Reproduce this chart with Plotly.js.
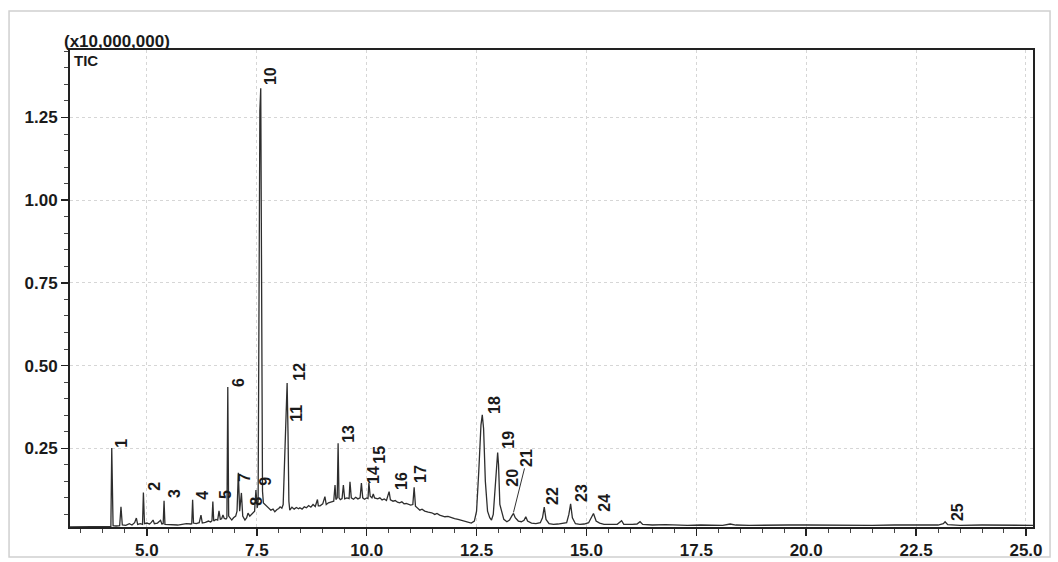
<!DOCTYPE html>
<html>
<head>
<meta charset="utf-8">
<script src="https://cdn.plot.ly/plotly-3.0.1.min.js"></script>
<style>
  html, body { margin: 0; padding: 0; background: #ffffff; }
  #chart { width: 1058px; height: 562px; }
</style>
</head>
<body>
<div id="chart"></div>
<script>
// Retention time (min) and TIC intensity (x10,000,000)
const retentionTime = [
  3.25, 3.6, 3.9, 4.15, 4.18, 4.20, 4.215, 4.23, 4.30, 4.38, 4.41, 4.44, 4.52, 4.60, 4.66, 4.72, 4.76, 4.79,
  4.85, 4.90, 4.92, 4.945, 5.00, 5.06, 5.10, 5.14, 5.17, 5.24, 5.31, 5.34, 5.37, 5.39, 5.41, 5.50, 5.60, 5.70,
  5.80, 5.90, 6.00, 6.02, 6.04, 6.06, 6.12, 6.19, 6.23, 6.26, 6.33, 6.40, 6.45, 6.48, 6.50, 6.52, 6.57, 6.61,
  6.64, 6.67, 6.70, 6.73, 6.76, 6.80, 6.82, 6.84, 6.86, 6.90, 6.93, 6.97, 7.02, 7.05, 7.08, 7.11, 7.15, 7.18,
  7.23, 7.27, 7.30, 7.34, 7.38, 7.42, 7.45, 7.48, 7.51, 7.53, 7.55, 7.57, 7.59, 7.61, 7.63, 7.65, 7.70, 7.76,
  7.82, 7.87, 7.91, 7.96, 8.00, 8.03, 8.07, 8.10, 8.13, 8.15, 8.17, 8.19, 8.21, 8.23, 8.25, 8.30, 8.35, 8.40,
  8.45, 8.48, 8.53, 8.58, 8.63, 8.68, 8.73, 8.78, 8.83, 8.88, 8.90, 8.94, 9.00, 9.05, 9.08, 9.13, 9.20, 9.25,
  9.28, 9.30, 9.33, 9.35, 9.37, 9.40, 9.44, 9.47, 9.50, 9.55, 9.60, 9.62, 9.65, 9.70, 9.75, 9.80, 9.85, 9.88,
  9.91, 9.95, 10.00, 10.03, 10.05, 10.08, 10.12, 10.15, 10.18, 10.25, 10.30, 10.35, 10.40, 10.45, 10.51, 10.54,
  10.60, 10.65, 10.70, 10.75, 10.80, 10.85, 10.90, 10.95, 11.00, 11.05, 11.08, 11.11, 11.15, 11.21, 11.26, 11.32,
  11.40, 11.48, 11.55, 11.60, 11.66, 11.72, 11.78, 11.85, 11.92, 12.00, 12.08, 12.15, 12.22, 12.30, 12.38, 12.45,
  12.50, 12.55, 12.60, 12.63, 12.66, 12.70, 12.75, 12.80, 12.84, 12.88, 12.92, 12.96, 12.98, 13.00, 13.03, 13.07,
  13.12, 13.19, 13.25, 13.30, 13.34, 13.38, 13.45, 13.52, 13.58, 13.62, 13.66, 13.75, 13.85, 13.95, 14.00, 14.04,
  14.08, 14.15, 14.25, 14.35, 14.45, 14.55, 14.60, 14.64, 14.68, 14.75, 14.85, 14.95, 15.05, 15.10, 15.16, 15.22,
  15.30, 15.40, 15.50, 15.60, 15.70, 15.80, 15.85, 15.95, 16.05, 16.15, 16.22, 16.28, 16.50, 16.80, 17.00, 17.30,
  17.60, 17.90, 18.10, 18.27, 18.40, 18.70, 19.00, 19.30, 19.60, 20.00, 20.50, 21.00, 21.50, 22.00, 22.50, 23.00,
  23.12, 23.16, 23.22, 23.50, 24.00, 24.50, 25.00, 25.16
];
const ticIntensity = [
  0.012, 0.013, 0.012, 0.013, 0.014, 0.251, 0.100, 0.016, 0.015, 0.016, 0.073, 0.018, 0.017, 0.022, 0.018, 0.025, 0.039, 0.020,
  0.022, 0.020, 0.116, 0.022, 0.024, 0.021, 0.026, 0.033, 0.022, 0.024, 0.032, 0.021, 0.022, 0.091, 0.020, 0.019, 0.020, 0.018,
  0.020, 0.022, 0.021, 0.022, 0.094, 0.024, 0.022, 0.025, 0.048, 0.024, 0.026, 0.030, 0.027, 0.031, 0.089, 0.030, 0.035, 0.033,
  0.061, 0.035, 0.037, 0.048, 0.038, 0.036, 0.040, 0.435, 0.045, 0.036, 0.033, 0.040, 0.045, 0.060, 0.176, 0.060, 0.115, 0.045,
  0.033, 0.040, 0.054, 0.045, 0.050, 0.058, 0.060, 0.124, 0.070, 0.090, 0.720, 1.270, 1.338, 0.600, 0.120, 0.085, 0.078, 0.070,
  0.063, 0.066, 0.058, 0.065, 0.068, 0.073, 0.069, 0.080, 0.200, 0.330, 0.350, 0.447, 0.300, 0.090, 0.063, 0.072, 0.066, 0.071,
  0.067, 0.070, 0.066, 0.073, 0.070, 0.077, 0.072, 0.080, 0.074, 0.095, 0.076, 0.076, 0.082, 0.104, 0.080, 0.085, 0.088, 0.090,
  0.139, 0.095, 0.100, 0.265, 0.100, 0.095, 0.098, 0.139, 0.097, 0.100, 0.098, 0.149, 0.100, 0.096, 0.102, 0.097, 0.100, 0.145,
  0.100, 0.096, 0.100, 0.098, 0.146, 0.105, 0.100, 0.112, 0.100, 0.097, 0.100, 0.094, 0.097, 0.092, 0.119, 0.094,
  0.090, 0.092, 0.087, 0.085, 0.088, 0.082, 0.083, 0.080, 0.078, 0.080, 0.132, 0.075, 0.070, 0.063, 0.066, 0.060,
  0.057, 0.055, 0.050, 0.053, 0.048, 0.046, 0.043, 0.044, 0.040, 0.037, 0.035, 0.032, 0.030, 0.026, 0.024, 0.030,
  0.060, 0.180, 0.320, 0.351, 0.310, 0.150, 0.060, 0.040, 0.033, 0.050, 0.140, 0.220, 0.237, 0.200, 0.080, 0.060,
  0.035, 0.028, 0.033, 0.045, 0.053, 0.040, 0.030, 0.028, 0.032, 0.043, 0.030, 0.024, 0.022, 0.025, 0.040, 0.072,
  0.035, 0.022, 0.020, 0.021, 0.022, 0.025, 0.050, 0.082, 0.040, 0.022, 0.020, 0.021, 0.025, 0.040, 0.053, 0.030,
  0.024, 0.020, 0.019, 0.020, 0.020, 0.031, 0.020, 0.019, 0.020, 0.021, 0.028, 0.020, 0.018, 0.019, 0.018, 0.017,
  0.018, 0.018, 0.017, 0.021, 0.018, 0.017, 0.018, 0.017, 0.018, 0.018, 0.017, 0.018, 0.017, 0.018, 0.017, 0.018,
  0.022, 0.028, 0.019, 0.017, 0.018, 0.017, 0.017, 0.017
];

// Peak labels and where their text sits (retention time, intensity)
const peakNames = ["1","2","3","4","5","6","7","8","9","10","11","12","13","14","15","16","17","18","19","20","21","22","23","24","25"];
const peakLabelRT = [4.43, 5.18, 5.64, 6.27, 6.80, 7.07, 7.21, 7.50, 7.68, 7.80, 8.41, 8.48, 9.57, 10.14, 10.30, 10.78, 11.21, 12.92, 13.21, 13.30, 13.65, 14.24, 14.90, 15.42, 23.43];
const peakLabelLevel = [0.266, 0.136, 0.112, 0.109, 0.109, 0.450, 0.160, 0.091, 0.151, 1.375, 0.357, 0.481, 0.293, 0.169, 0.230, 0.151, 0.172, 0.381, 0.275, 0.160, 0.221, 0.106, 0.115, 0.085, 0.057];
// Peak 21 has a leader line to its apex
const leaderPeakRT = 13.34;
const leaderPeakLevel = 0.056;

const xTickVals = [5.0, 7.5, 10.0, 12.5, 15.0, 17.5, 20.0, 22.5, 25.0];
const yTickVals = [0.25, 0.50, 0.75, 1.00, 1.25];

const FONT = "Liberation Sans, Arial, sans-serif";

const annotations = peakNames.map((name, i) => {
  if (name === "21") {
    return {
      x: leaderPeakRT, y: leaderPeakLevel, xref: "x", yref: "y",
      ax: peakLabelRT[i], ay: peakLabelLevel[i], axref: "x", ayref: "y",
      text: name, textangle: -90, showarrow: true, arrowhead: 0,
      arrowwidth: 1, arrowcolor: "#333", standoff: 0, startstandoff: 0,
      font: { family: FONT, size: 16, color: "#1a1a1a", weight: 700 }
    };
  }
  return {
    x: peakLabelRT[i], y: peakLabelLevel[i], xref: "x", yref: "y",
    text: name, textangle: -90, showarrow: false,
    xanchor: "center", yanchor: "middle",
    font: { family: FONT, size: 16, color: "#1a1a1a", weight: 700 }
  };
});

annotations.push({
  x: -0.0083, y: 1.0168, xref: "paper", yref: "paper",
  text: "(x10,000,000)", showarrow: false, xanchor: "left", yanchor: "middle",
  font: { family: FONT, size: 17, color: "#1a1a1a", weight: 700 }
});
annotations.push({
  x: 0.002, y: 0.979, xref: "paper", yref: "paper",
  text: "TIC", showarrow: false, xanchor: "left", yanchor: "middle",
  font: { family: FONT, size: 15, color: "#1a1a1a", weight: 700 }
});

const trace = {
  x: retentionTime,
  y: ticIntensity,
  type: "scatter",
  mode: "lines",
  line: { color: "#2e2e2e", width: 1.3 },
  hoverinfo: "x+y"
};

const layout = {
  width: 1058,
  height: 562,
  paper_bgcolor: "#ffffff",
  plot_bgcolor: "#ffffff",
  margin: { l: 70, r: 25, t: 50, b: 35, pad: 0 },
  showlegend: false,
  xaxis: {
    range: [3.25, 25.16],
    tickvals: xTickVals,
    ticktext: xTickVals.map(v => v.toFixed(1)),
    ticks: "outside", ticklen: 7, tickwidth: 1.5, tickcolor: "#222",
    minor: { dtick: 0.5, tick0: 0, ticks: "outside", ticklen: 4, tickwidth: 1, tickcolor: "#444", showgrid: false },
    showgrid: true, gridcolor: "#d6d6d6", griddash: "dot", gridwidth: 1,
    showline: true, linecolor: "#222", linewidth: 2, mirror: true,
    zeroline: false,
    tickfont: { family: FONT, size: 17, color: "#1a1a1a", weight: 700 }
  },
  yaxis: {
    range: [0.012, 1.454],
    tickvals: yTickVals,
    ticktext: yTickVals.map(v => v.toFixed(2)),
    ticks: "outside", ticklen: 7, tickwidth: 1.5, tickcolor: "#222",
    minor: { dtick: 0.05, tick0: 0, ticks: "outside", ticklen: 4, tickwidth: 1, tickcolor: "#444", showgrid: false },
    showgrid: true, gridcolor: "#d6d6d6", griddash: "dot", gridwidth: 1,
    showline: true, linecolor: "#222", linewidth: 2, mirror: true,
    zeroline: false,
    tickfont: { family: FONT, size: 17, color: "#1a1a1a", weight: 700 }
  },
  shapes: [{
    type: "rect", xref: "paper", yref: "paper",
    x0: -0.0633, x1: 1.0177, y0: -0.0629, y1: 1.0818,
    line: { color: "#d0d0d0", width: 1.5 }, fillcolor: "rgba(0,0,0,0)", layer: "below"
  }],
  annotations: annotations
};

Plotly.newPlot("chart", [trace], layout, { displayModeBar: false, staticPlot: true });
</script>
</body>
</html>
